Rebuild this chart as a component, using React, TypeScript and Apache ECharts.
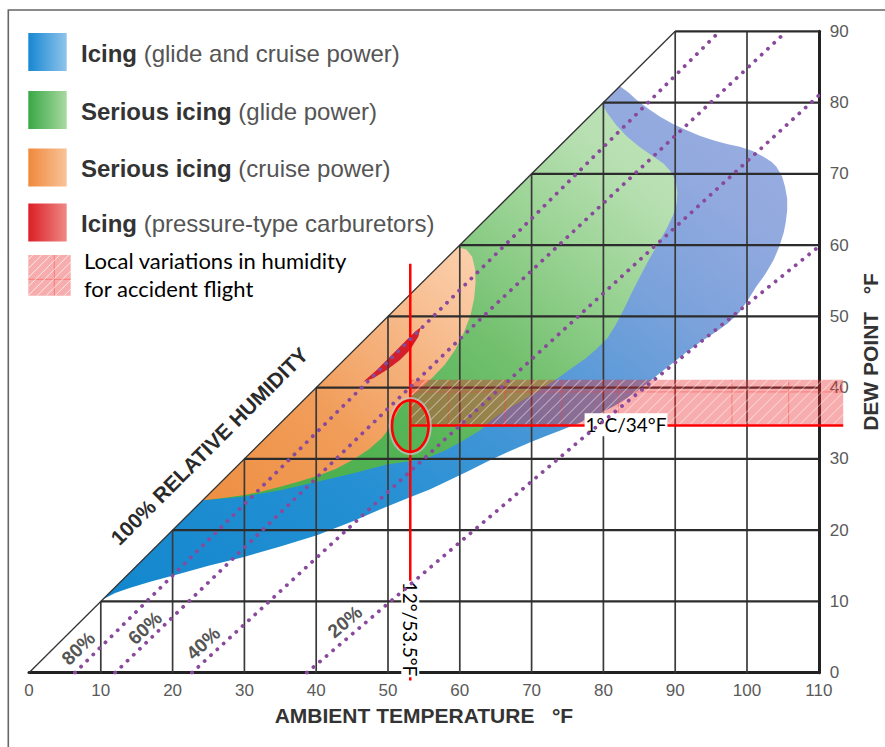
import React, { useEffect, useRef } from "react";
import * as echarts from "echarts";

// ---------- axes ----------
const ambientTicks = [0, 10, 20, 30, 40, 50, 60, 70, 80, 90, 100, 110];
const dewTicks = [0, 10, 20, 30, 40, 50, 60, 70, 80, 90];

// ---------- icing regions (ambient °F, dew point °F) ----------
const blueIcing = [
  [10.3, 10.3], [82.3, 82.3], [83.5, 81.4], [84.6, 80.4], [86.3, 79.1], [87.9, 78], [89.7, 77],
  [91.6, 76.1], [93.5, 75.3], [95.3, 74.7], [97.2, 74.2], [99, 73.8], [100.8, 73.2], [102.3, 72.4],
  [103.4, 71.7], [104.1, 71], [104.9, 69.6], [105.3, 68.2], [105.6, 66.5], [105.6, 64.9], [105.4, 63.2],
  [105.1, 61.7], [104.5, 59.8], [103.7, 57.9], [102.6, 56], [101.3, 54.2], [100.2, 52.4], [98.9, 50.5],
  [97.3, 49], [95.5, 47.7], [93.5, 46.4], [91.6, 45], [89.7, 43.5], [87.8, 42], [86, 40.5], [84, 39],
  [82, 37.7], [80, 36.6], [78, 35.6], [76, 34.8], [74, 34], [72, 33.2], [70, 32.4], [67, 31.1],
  [64.2, 29.8], [61, 28.2], [57.5, 26.5], [55.8, 25.7], [52.8, 24.5], [49.8, 23.3], [45.2, 21.3],
  [40.1, 19.3], [35, 17.7], [29.8, 16.2], [25, 15], [21, 13.9], [17, 12.8], [14, 11.9], [12, 11.2],
];
const greenSerious = [
  [24.2, 24.2], [79.8, 79.8], [80.5, 78.6], [81.8, 76.8], [83.2, 75.3], [85, 73.8], [87, 72.4],
  [88.4, 71.4], [89.4, 70.3], [90.1, 69], [90.3, 67.3], [90.2, 65.8], [89.7, 64.2], [88.8, 62.3],
  [87.4, 59.8], [86.2, 57.7], [85.1, 55.6], [83.9, 53.2], [82.8, 50.9], [81.7, 48.8], [80.6, 47],
  [79, 45.4], [77.5, 44.1], [75.8, 42.9], [73.5, 41.2], [71, 39.6], [68.7, 38.2], [66.5, 36.9],
  [64.6, 35.6], [62.8, 34], [60, 32.3], [58, 31.2], [55.4, 30.1], [52.5, 29.6], [49.8, 29.2],
  [45.2, 28], [40.1, 26.8], [35, 25.6], [29.8, 24.7], [26.5, 24.4],
];
const orangeSerious = [
  [24.2, 24.2], [59.7, 59.7], [60.9, 59.4], [61.7, 58.4], [62.1, 56.8], [62.2, 54.8], [62, 52.5],
  [61.5, 50.2], [60.6, 47.8], [59.4, 45.4], [57.9, 43.2], [56.1, 41.3], [54.2, 39.6], [52.6, 38.3],
  [51.4, 36.8], [50.4, 34.6], [49.2, 33], [47.4, 31.4], [45.2, 29.9], [42.7, 28.6], [40.1, 27.6],
  [37.5, 26.8], [35, 26.1], [32.3, 25.4], [29.8, 24.9], [27, 24.5],
];
const redPressure = [
  [46.56, 40.83], [48.43, 42.47], [50.28, 44.34], [52.13, 46.22], [53.76, 47.85], [54.55, 48.46],
  [54.22, 47.14], [53.06, 45.28], [51.67, 43.88], [49.81, 42.47], [47.95, 41.31],
];

// ---------- relative humidity lines ----------
const rhLabels = ["80%", "60%", "40%", "20%"];
const rh80 = [[6.4, 0], [58.6, 52.3], [96.2, 90]];
const rh60 = [[12, 0], [64.7, 51.4], [105.5, 90]];
const rh40 = [[22.7, 0], [73.9, 47.6], [110, 81]];
const rh20 = [[38.7, 0], [60, 18.3], [77.2, 33], [97.2, 49.4], [110, 59.8]];
const rhLines = [rh80, rh60, rh40, rh20];
const rhLabelAt = [[6.87, 3.42], [16.16, 6.27], [24.28, 4.13], [44.0, 7.16]];
const rhLabelAngle = [44, 43, 43, 40];
const rh100Label = "100% RELATIVE HUMIDITY";
const rh100LabelAt = [25.1, 31.8];

// ---------- accident flight annotation ----------
const accidentTemp = 53.1;
const accidentDew = 34.7;
const humidityBand = [34.7, 41.1];
const bandEndTemp = 113.4;
const markerTop = 57.4;
const markerBottom = -1.1;
const ellipseRadii = [2.55, 3.62];
const cellTemps = [58.4, 66.3, 74.2, 82.1, 90, 97.9, 105.8];
const cellDews = [39.4];
const tempLabel = "12°/53.5°F";
const tempLabelAt = [53.1, 6.13];
const dewLabel = "1°C/34°F";
const dewLabelAt = [83.15, 34.8];

// ---------- legend ----------
const legendBold = ["Icing", "Serious icing", "Serious icing", "Icing"];
const legendRest = [" (glide and cruise power)", " (glide power)", " (cruise power)", " (pressure-type carburetors)"];
const legendColors = [
  ["#1787d2", "#8fc4ea"],
  ["#39a845", "#a8d9a1"],
  ["#f0893c", "#f8c398"],
  ["#db1e25", "#ee8985"],
];
const hatchLegendText = ["Local variations in humidity", "for accident flight"];

const SANS = '"Liberation Sans", Arial, Helvetica, sans-serif';
const CAL = 'Lato, "Open Sans", sans-serif';

const lg = (stops: [number, string][]) =>
  new echarts.graphic.LinearGradient(0, 1, 1, 0, stops.map(([offset, color]) => ({ offset, color })));

const blueFill = lg([[0, "#1287ce"], [0.3, "#2590d3"], [0.5, "#4a97d7"], [0.7, "#7ba2db"], [0.85, "#93aadf"], [1, "#9caee0"]]);
const greenFill = lg([[0, "#44ac48"], [0.3, "#55b455"], [0.5, "#72c06e"], [0.7, "#9ad394"], [0.85, "#b6dfb0"], [1, "#c2e5bc"]]);
const orangeFill = lg([[0, "#ee8f42"], [0.4, "#f19d5a"], [0.65, "#f5b27e"], [0.85, "#f9c59c"], [1, "#fbd1ad"]]);

function hatchLines(x0: number, y0: number, x1: number, y1: number, step: number) {
  const out: number[][] = [];
  for (let c = x0 + y0 + step / 2; c < x1 + y1; c += step) {
    const xa = Math.max(x0, c - y1);
    const xb = Math.min(x1, c - y0);
    if (xb > xa) out.push([xa, c - xa, xb, c - xb]);
  }
  return out;
}

const layer = (name: string, build: (api: any) => any[]) => ({
  type: "custom",
  name,
  coordinateSystem: "cartesian2d",
  silent: true,
  clip: false,
  data: [[0, 0]],
  renderItem: (_p: any, api: any) => ({ type: "group", children: build(api) }),
});

const region = (name: string, pts: number[][], fill: any) =>
  layer(name, (api) => [
    { type: "polygon", shape: { points: pts.map((p) => api.coord(p)) }, style: { fill } },
  ]);

const gridLayer = layer("grid", (api) => {
  const out: any[] = [];
  const seg = (a: number[], b: number[], w: number, c: string) => {
    const p = api.coord(a);
    const q = api.coord(b);
    out.push({ type: "line", shape: { x1: p[0], y1: p[1], x2: q[0], y2: q[1] }, style: { stroke: c, lineWidth: w } });
  };
  ambientTicks.filter((t) => t > 0 && t < 110).forEach((t) => seg([t, 0], [t, Math.min(t, 90)], 1.7, "#3a3a3a"));
  dewTicks.filter((t) => t > 0).forEach((t) => seg([t, t], [110, t], 2.2, "#2c2c2c"));
  seg([0, 0], [90, 90], 1.3, "#333");
  return out;
});

const rhSeries = rhLines.map((pts, i) => ({
  type: "line",
  name: rhLabels[i],
  data: pts,
  symbol: "none",
  silent: true,
  clip: true,
  lineStyle: { color: "#8a4a9c", width: 3.8, type: [0.1, 8.5], cap: "round" },
}));

const annotation = layer("annotation", (api) => {
  const out: any[] = [];
  const tl = api.coord([accidentTemp, humidityBand[1]]);
  const br = api.coord([bandEndTemp, humidityBand[0]]);
  out.push({
    type: "rect",
    shape: { x: tl[0], y: tl[1], width: br[0] - tl[0], height: br[1] - tl[1] },
    style: { fill: "rgba(235,40,40,0.38)" },
  });
  cellTemps.forEach((t) => {
    const p = api.coord([t, humidityBand[1]]);
    out.push({ type: "line", shape: { x1: p[0], y1: tl[1], x2: p[0], y2: br[1] }, style: { stroke: "rgba(255,60,60,0.55)", lineWidth: 0.8 } });
  });
  cellDews.forEach((d) => {
    const p = api.coord([accidentTemp, d]);
    out.push({ type: "line", shape: { x1: tl[0], y1: p[1], x2: br[0], y2: p[1] }, style: { stroke: "rgba(255,60,60,0.55)", lineWidth: 0.8 } });
  });
  hatchLines(tl[0], tl[1], br[0], br[1], 11).forEach((l) =>
    out.push({ type: "line", shape: { x1: l[0], y1: l[1], x2: l[2], y2: l[3] }, style: { stroke: "rgba(255,255,255,0.6)", lineWidth: 1 } })
  );
  // marker lines
  const vt = api.coord([accidentTemp, markerTop]);
  const vb = api.coord([accidentTemp, markerBottom]);
  out.push({ type: "line", shape: { x1: vt[0], y1: vt[1], x2: vb[0], y2: vb[1] }, style: { stroke: "#ff0000", lineWidth: 2.5 } });
  const hl = api.coord([accidentTemp, accidentDew]);
  const hr = api.coord([bandEndTemp, accidentDew]);
  out.push({ type: "line", shape: { x1: hl[0], y1: hl[1], x2: hr[0], y2: hr[1] }, style: { stroke: "#ff0000", lineWidth: 2.5 } });
  // ellipse
  const c = api.coord([accidentTemp, accidentDew - 0.1]);
  const e = api.coord([accidentTemp + ellipseRadii[0], accidentDew - 0.1 + ellipseRadii[1]]);
  const rx = e[0] - c[0];
  const ry = c[1] - e[1];
  out.push({ type: "ellipse", shape: { cx: c[0], cy: c[1], rx: rx + 2, ry: ry + 2 }, style: { fill: "none", stroke: "rgba(200,200,200,0.7)", lineWidth: 2.5 } });
  out.push({ type: "ellipse", shape: { cx: c[0], cy: c[1], rx, ry }, style: { fill: "none", stroke: "#ff0000", lineWidth: 2.6 } });
  // labels
  const d = api.coord(dewLabelAt);
  out.push({
    type: "text", x: d[0], y: d[1],
    style: { text: dewLabel, fontSize: 19, fontFamily: CAL, fill: "#000", align: "center", verticalAlign: "middle", backgroundColor: "#fff", padding: [3, 1, 1, 1] },
  });
  const t = api.coord(tempLabelAt);
  out.push({
    type: "text", x: t[0], y: t[1], rotation: -Math.PI / 2,
    style: { text: tempLabel, fontSize: 19, fontFamily: CAL, fill: "#000", align: "center", verticalAlign: "middle", backgroundColor: "#fff", padding: [0, 1, 0, 1], lineHeight: 18 },
  });
  rhLabels.forEach((lab, i) => {
    const p = api.coord(rhLabelAt[i]);
    out.push({
      type: "text", x: p[0], y: p[1], rotation: (rhLabelAngle[i] * Math.PI) / 180,
      style: { text: lab, fontSize: 19, fontFamily: SANS, fontWeight: "bold", fill: "#555", align: "center", verticalAlign: "middle" },
    });
  });
  const r = api.coord(rh100LabelAt);
  out.push({
    type: "text", x: r[0], y: r[1], rotation: Math.PI / 4,
    style: { text: rh100Label, fontSize: 21, fontFamily: SANS, fontWeight: "bold", fill: "#2a2a2a", align: "center", verticalAlign: "middle" },
  });
  return out;
});

// ---------- legend graphics (page layout) ----------
const legendY = [52, 110, 167.5, 222.5];
const legendGraphics: any[] = [
  { type: "rect", silent: true, shape: { x: 8.3, y: 10, width: 900, height: 800 }, style: { fill: "none", stroke: "#666", lineWidth: 1.6 } },
];
legendBold.forEach((b, i) => {
  legendGraphics.push({
    type: "rect", silent: true,
    shape: { x: 28.3, y: legendY[i] - 19, width: 38.4, height: 38 },
    style: { fill: new echarts.graphic.LinearGradient(0, 0, 1, 0, [{ offset: 0, color: legendColors[i][0] }, { offset: 1, color: legendColors[i][1] }]) },
  });
  legendGraphics.push({
    type: "text", silent: true, x: 81, y: legendY[i] + 1,
    style: {
      text: `{b|${b}}{n|${legendRest[i]}}`,
      align: "left", verticalAlign: "middle",
      rich: {
        b: { fontFamily: SANS, fontSize: 24, fontWeight: "bold", fill: "#333", color: "#333" },
        n: { fontFamily: SANS, fontSize: 24, fontWeight: "normal", fill: "#555", color: "#555" },
      },
    },
  });
});
{
  const x0 = 28.3, y0 = 255, x1 = 70.7, y1 = 295.7;
  legendGraphics.push({ type: "rect", silent: true, shape: { x: x0, y: y0, width: x1 - x0, height: y1 - y0 }, style: { fill: "rgba(235,40,40,0.38)" } });
  legendGraphics.push({ type: "line", silent: true, shape: { x1: 54.3, y1: y0, x2: 54.3, y2: y1 }, style: { stroke: "rgba(255,60,60,0.55)", lineWidth: 0.8 } });
  legendGraphics.push({ type: "line", silent: true, shape: { x1: x0, y1: 279.3, x2: x1, y2: 279.3 }, style: { stroke: "rgba(255,60,60,0.55)", lineWidth: 0.8 } });
  hatchLines(x0, y0, x1, y1, 9).forEach((l) =>
    legendGraphics.push({ type: "line", silent: true, shape: { x1: l[0], y1: l[1], x2: l[2], y2: l[3] }, style: { stroke: "rgba(255,255,255,0.7)", lineWidth: 1 } })
  );
  hatchLegendText.forEach((s, i) =>
    legendGraphics.push({
      type: "text", silent: true, x: 84, y: 260 + i * 28.5,
      style: { text: s, fontFamily: CAL, fontSize: 22, fill: "#000", align: "left", verticalAlign: "middle" },
    })
  );
}

const option: any = {
  animation: false,
  backgroundColor: "#fff",
  grid: { left: 29, right: 66.2, top: 31.3, bottom: 74.3, containLabel: false, outerBoundsMode: "none" },
  xAxis: {
    type: "value", min: 0, max: 110, interval: 10,
    splitLine: { show: false }, axisTick: { show: false },
    axisLine: { show: true, onZero: false, lineStyle: { color: "#222", width: 3 } },
    axisLabel: { color: "#5a5a5a", fontSize: 17, fontFamily: SANS, margin: 9, showMinLabel: true, showMaxLabel: true },
    name: "AMBIENT TEMPERATURE   °F", nameLocation: "middle", nameGap: 32,
    nameTextStyle: { fontWeight: "bold", fontSize: 21, color: "#333", fontFamily: SANS },
  },
  yAxis: {
    type: "value", position: "right", min: 0, max: 90, interval: 10,
    splitLine: { show: false }, axisTick: { show: false },
    axisLine: { show: true, onZero: false, lineStyle: { color: "#222", width: 3 } },
    axisLabel: { color: "#5a5a5a", fontSize: 17, fontFamily: SANS, margin: 11, showMinLabel: true, showMaxLabel: true },
    name: "DEW POINT   °F", nameLocation: "middle", nameGap: 39, nameRotate: 90,
    nameTextStyle: { fontWeight: "bold", fontSize: 21, color: "#333", fontFamily: SANS },
  },
  graphic: legendGraphics,
  series: [
    region("Icing (glide and cruise power)", blueIcing, blueFill),
    region("Serious icing (glide power)", greenSerious, greenFill),
    region("Serious icing (cruise power)", orangeSerious, orangeFill),
    region("Icing (pressure-type carburetors)", redPressure, "#d31f2b"),
    gridLayer,
    ...rhSeries,
    annotation,
  ],
};

export default function App() {
  const ref = useRef<HTMLDivElement>(null);
  useEffect(() => {
    document.body.style.margin = "0";
    const chart = echarts.init(ref.current as HTMLDivElement, null, { renderer: "svg" });
    chart.setOption(option);
    return () => chart.dispose();
  }, []);
  return <div ref={ref} style={{ width: 885, height: 747 }} />;
}
